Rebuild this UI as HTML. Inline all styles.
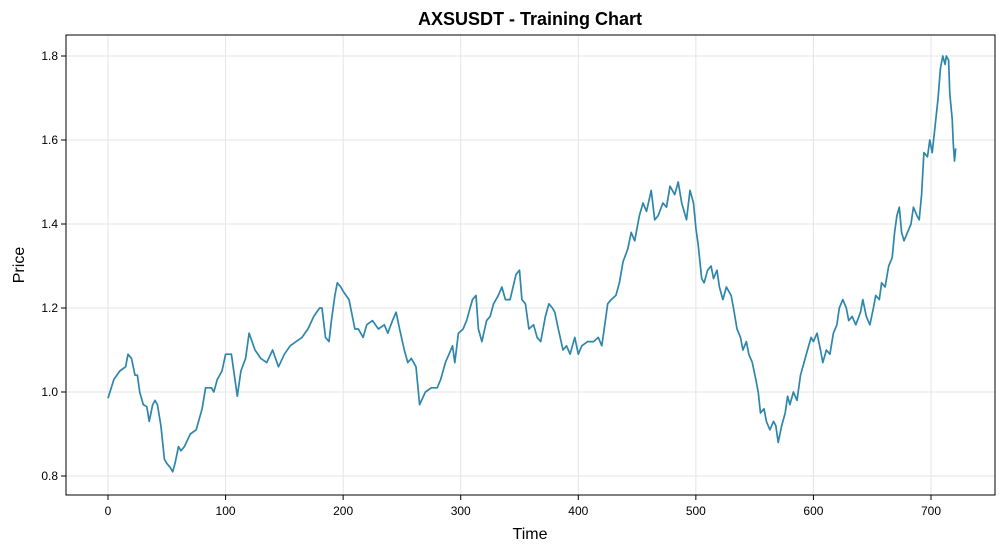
<!DOCTYPE html>
<html><head><meta charset="utf-8"><style>
body{margin:0;background:#fff;}
svg{display:block;font-family:"Liberation Sans","DejaVu Sans",sans-serif;}
</style></head><body>
<svg id="chart" width="1005" height="552" viewBox="0 0 1005 552">
<rect width="1005" height="552" fill="#fff"/>
<g id="grid"></g>
<g id="ticks"></g>
<path id="line" fill="none" stroke="#2E86AB" stroke-width="1.7" stroke-linejoin="round"/>
<rect x="66" y="35" width="929" height="460" fill="none" stroke="#000" stroke-width="1"/>
<text x="530" y="25" text-anchor="middle" font-size="18" font-weight="bold">AXSUSDT - Training Chart</text>
<text x="530" y="539" text-anchor="middle" font-size="16">Time</text>
<text x="24" y="265" text-anchor="middle" font-size="16" transform="rotate(-90 24 265)">Price</text>
</svg>
<script>
const times=[0,5,10,15,17,20,23,25,27,30,33,35,38,40,42,45,48,50,53,55,57,60,62,65,70,75,80,83,88,90,93,97,100,105,110,113,117,120,125,130,135,140,145,150,155,160,165,170,175,180,182,185,188,190,193,195,198,200,205,210,213,217,220,225,230,235,238,242,245,248,252,255,258,262,265,270,275,280,283,287,290,293,295,298,302,305,308,310,313,315,318,322,325,328,332,335,338,342,347,350,352,355,358,362,365,368,372,375,378,380,383,387,390,393,397,400,403,408,413,417,420,422,425,428,432,435,438,442,445,448,452,455,458,462,465,468,472,475,478,482,485,488,490,492,495,498,500,502,505,507,510,513,515,518,520,523,526,530,532,535,538,540,543,545,548,551,553,555,558,560,563,566,568,570,573,576,578,580,583,586,589,592,595,598,600,603,606,608,611,614,617,620,622,625,628,630,633,636,640,642,645,648,651,653,656,658,661,664,667,669,671,673,675,677,680,683,685,688,690,692,694,697,699,701,703,706,708,710,712,713,715,716,718,719,720,721];
const prices=[0.985,1.03,1.05,1.06,1.09,1.08,1.04,1.04,1.00,0.97,0.965,0.93,0.97,0.98,0.97,0.92,0.84,0.83,0.82,0.81,0.83,0.87,0.86,0.87,0.90,0.91,0.96,1.01,1.01,1.00,1.03,1.05,1.09,1.09,0.99,1.05,1.08,1.14,1.10,1.08,1.07,1.10,1.06,1.09,1.11,1.12,1.13,1.15,1.18,1.20,1.20,1.13,1.12,1.17,1.23,1.26,1.25,1.24,1.22,1.15,1.15,1.13,1.16,1.17,1.15,1.16,1.14,1.17,1.19,1.15,1.10,1.07,1.08,1.06,0.97,1.00,1.01,1.01,1.03,1.07,1.09,1.11,1.07,1.14,1.15,1.17,1.20,1.22,1.23,1.15,1.12,1.17,1.18,1.21,1.23,1.25,1.22,1.22,1.28,1.29,1.22,1.21,1.15,1.16,1.13,1.12,1.18,1.21,1.20,1.19,1.15,1.10,1.11,1.09,1.13,1.09,1.11,1.12,1.12,1.13,1.11,1.15,1.21,1.22,1.23,1.26,1.31,1.34,1.38,1.36,1.42,1.45,1.43,1.48,1.41,1.42,1.45,1.44,1.49,1.47,1.50,1.45,1.43,1.41,1.48,1.45,1.39,1.35,1.27,1.26,1.29,1.30,1.27,1.29,1.25,1.22,1.25,1.23,1.20,1.15,1.13,1.10,1.12,1.09,1.07,1.03,1.00,0.95,0.96,0.93,0.91,0.93,0.92,0.88,0.92,0.95,0.99,0.97,1.00,0.98,1.04,1.07,1.10,1.13,1.12,1.14,1.10,1.07,1.10,1.09,1.14,1.16,1.20,1.22,1.20,1.17,1.18,1.16,1.19,1.22,1.18,1.16,1.20,1.23,1.22,1.26,1.25,1.30,1.32,1.38,1.42,1.44,1.38,1.36,1.38,1.40,1.44,1.42,1.41,1.47,1.57,1.56,1.60,1.57,1.62,1.70,1.77,1.80,1.78,1.80,1.79,1.71,1.65,1.59,1.55,1.58];
const xTicks=[0,100,200,300,400,500,600,700];
const yTicks=[0.8,1.0,1.2,1.4,1.6,1.8];
const L=66,R=995,T=35,B=495;
function xs(t){return 108+t*(931-108)/700;}
function ys(v){return 476-(v-0.8)*420;}
const NS="http://www.w3.org/2000/svg";
const grid=document.getElementById('grid'),ticks=document.getElementById('ticks');
function mk(tag,attrs,parent){const e=document.createElementNS(NS,tag);for(const k in attrs)e.setAttribute(k,attrs[k]);parent.appendChild(e);return e;}
xTicks.forEach(t=>{const x=xs(t);
 const g=mk('line',{x1:x,x2:x,y1:T,y2:B,stroke:'#e5e5e5','stroke-width':1},grid);
 
 
 mk('line',{x1:x,x2:x,y1:B,y2:B+5,stroke:'#000'},ticks);
 const tx=mk('text',{x:x,y:B+20,'text-anchor':'middle','font-size':12},ticks);tx.textContent=t;
 
 
});
yTicks.forEach(v=>{const y=ys(v);
 const g=mk('line',{x1:L,x2:R,y1:y,y2:y,stroke:'#e5e5e5','stroke-width':1},grid);
 
 
 mk('line',{x1:L-5,x2:L,y1:y,y2:y,stroke:'#000'},ticks);
 const tx=mk('text',{x:L-8,y:y+4,'text-anchor':'end','font-size':12},ticks);tx.textContent=v.toFixed(1);
 
 
});
document.getElementById('line').setAttribute('d',times.map((t,i)=>(i?'L':'M')+xs(t).toFixed(1)+' '+ys(prices[i]).toFixed(1)).join(''));
</script>
</body></html>
